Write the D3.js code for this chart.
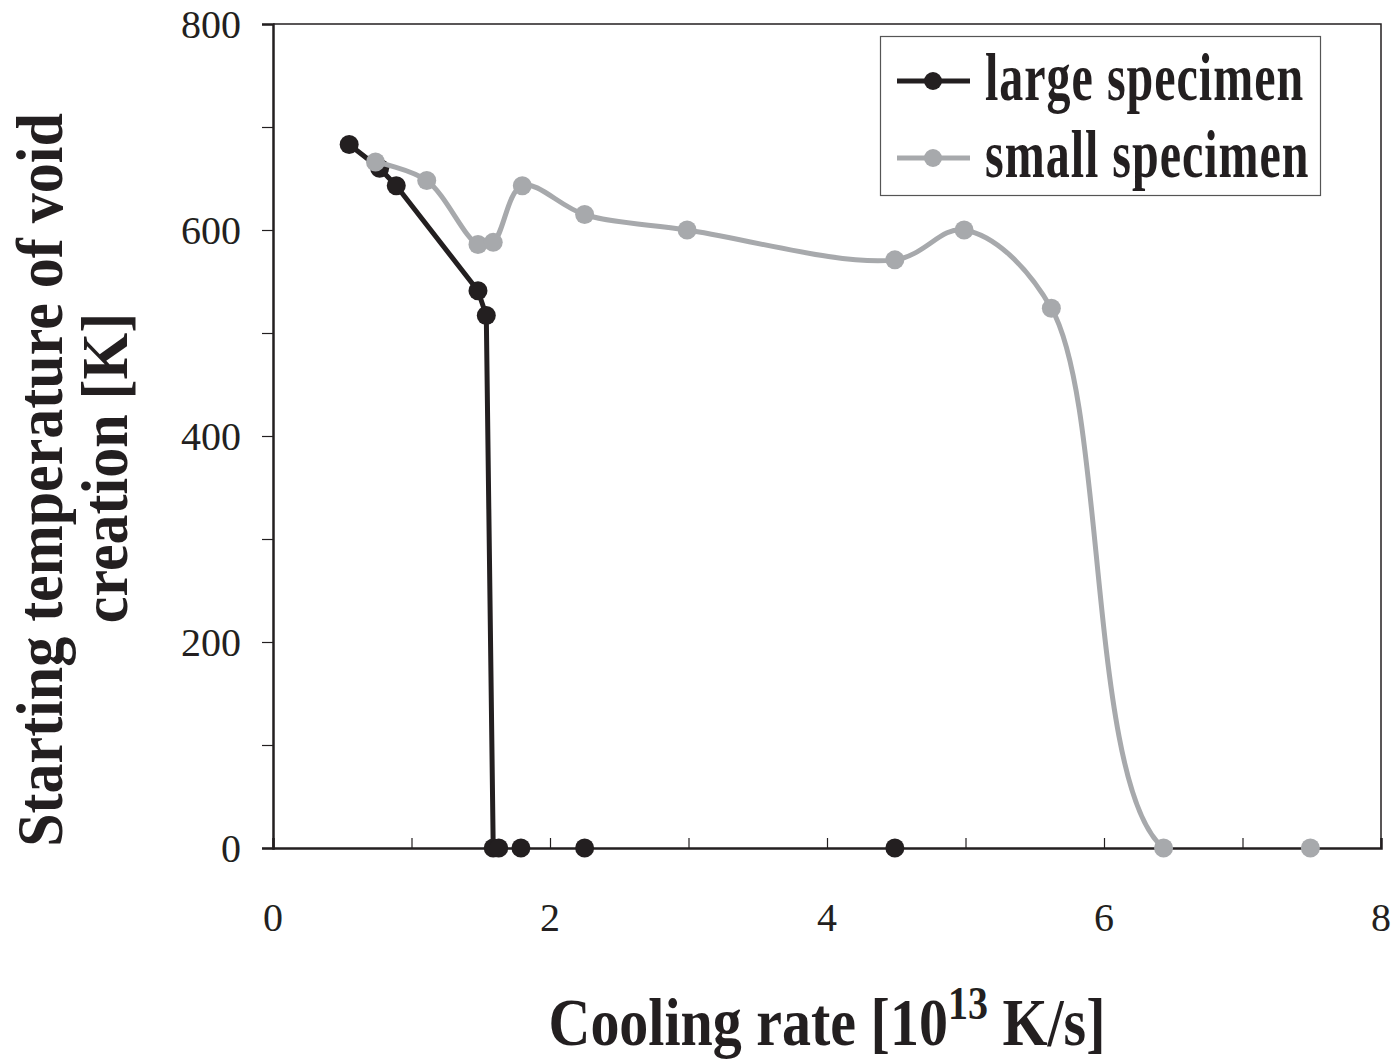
<!DOCTYPE html>
<html>
<head>
<meta charset="utf-8"/>
<script src="https://d3js.org/d3.v7.min.js"></script>
<style>
    body { margin: 0; background: #fff; }
    text { font-family: "Liberation Serif", "Times New Roman", serif; fill: #231f20; }
</style>
</head>
<body>
<svg width="1394" height="1062"></svg>
<script>
    // datos
    const largeX = [0.55, 0.77, 0.89, 1.48, 1.54, 1.59, 1.63, 1.79, 2.25, 4.49];
    const largeY = [683, 660, 643, 541, 517, 0, 0, 0, 0, 0];
    const smallX = [0.74, 1.11, 1.48, 1.59, 1.80, 2.25, 2.99, 4.49, 4.99, 5.62, 6.43, 7.49];
    const smallY = [666, 648, 586, 588, 643, 615, 600, 571, 600, 524, 0, 0];
    const seriesNames = ["large specimen", "small specimen"];
    const seriesColors = ["#231f20", "#a7a9ac"];
    const xTicks = [0, 2, 4, 6, 8];
    const yTicks = [0, 200, 400, 600, 800];

    const svg = d3.select("svg");
    const pLeft = 273, pRight = 1381, pTop = 24, pBottom = 848;

    let xScale = d3.scaleLinear().domain([0, 8]).range([pLeft, pRight]);
    let yScale = d3.scaleLinear().domain([0, 800]).range([pBottom, pTop]);

    // recorte: la linea no se ve sobre el eje x
    svg.append("clipPath").attr("id", "plotClip")
        .append("rect")
        .attr("x", pLeft).attr("y", 0)
        .attr("width", pRight - pLeft).attr("height", pBottom - 3);

    // marco superior y derecho
    svg.append("path")
        .attr("d", `M${pLeft},${pTop}H${pRight}V${pBottom}`)
        .attr("fill", "none")
        .attr("stroke", "#231f20")
        .attr("stroke-width", 1.5);

    // eje Y (ticks hacia afuera, menores cada 100)
    let yAxis = d3.axisLeft(yScale).tickValues(d3.range(0, 801, 100))
        .tickSize(11).tickFormat("");
    let yG = svg.append("g").attr("transform", `translate(${pLeft},0)`).call(yAxis);
    yG.select(".domain").attr("stroke", "#231f20").attr("stroke-width", 2.5);
    yG.selectAll(".tick line").attr("stroke", "#231f20").attr("stroke-width", 1.2);

    svg.selectAll(".ylab").data(yTicks).enter().append("text")
        .attr("x", 241).attr("y", d => yScale(d) + 14)
        .attr("text-anchor", "end")
        .style("font-size", "40px")
        .text(d => d);

    // eje X (ticks hacia adentro)
    let xAxis = d3.axisBottom(xScale).tickValues(d3.range(1, 8, 1))
        .tickSize(-10).tickFormat("");
    let xG = svg.append("g").attr("transform", `translate(0,${pBottom})`).call(xAxis);
    xG.select(".domain").attr("stroke", "#231f20").attr("stroke-width", 2.5);
    xG.selectAll(".tick line").attr("stroke", "#231f20").attr("stroke-width", 1.2);

    svg.selectAll(".xlab").data(xTicks).enter().append("text")
        .attr("x", d => xScale(d)).attr("y", 931)
        .attr("text-anchor", "middle")
        .style("font-size", "40px")
        .text(d => d);

    // titulos de ejes (tipografia un poco estirada en vertical)
    let xt = svg.append("text")
        .attr("transform", "translate(827,1045) scale(1,1.18)")
        .attr("text-anchor", "middle")
        .style("font-size", "58px").style("font-weight", "bold");
    xt.append("tspan").text("Cooling rate [10");
    xt.append("tspan").attr("dy", -22).style("font-size", "40px").text("13");
    xt.append("tspan").attr("dy", 22).text(" K/s]");

    svg.append("text")
        .attr("transform", "translate(62,480) rotate(-90) scale(1,1.1)")
        .attr("text-anchor", "middle")
        .style("font-size", "60px").style("font-weight", "bold")
        .text("Starting temperature of void");
    svg.append("text")
        .attr("transform", "translate(127,468) rotate(-90) scale(1,1.1)")
        .attr("text-anchor", "middle")
        .style("font-size", "60px").style("font-weight", "bold")
        .text("creation [K]");

    // series
    const series = [
        largeX.map((x, i) => ({x: x, y: largeY[i]})),
        smallX.map((x, i) => ({x: x, y: smallY[i]}))
    ];

    // la negra va con tramos rectos, la gris suavizada
    const curves = [d3.curveLinear, d3.curveCatmullRom.alpha(0.5)];

    // negra primero, gris encima
    [0, 1].forEach(function (k) {
        let pts = series[k];
        let line = d3.line()
            .x(d => xScale(d.x))
            .y(d => yScale(d.y))
            .curve(curves[k]);
        svg.append("path")
            .attr("d", line(pts))
            .attr("clip-path", "url(#plotClip)")
            .attr("fill", "none")
            .attr("stroke", seriesColors[k])
            .attr("stroke-width", 5)
            .attr("stroke-linejoin", "round");
        svg.append("g").selectAll("circle").data(pts).enter().append("circle")
            .attr("cx", d => xScale(d.x))
            .attr("cy", d => yScale(d.y))
            .attr("r", 9.5)
            .attr("fill", seriesColors[k]);
    });

    // leyenda
    let leg = svg.append("g");
    leg.append("rect")
        .attr("x", 880.5).attr("y", 36.5).attr("width", 440).attr("height", 159)
        .attr("fill", "#fff").attr("stroke", "#555").attr("stroke-width", 1.2);
    const legY = [81, 158], legBase = [100, 177];
    seriesNames.forEach(function (name, i) {
        leg.append("line")
            .attr("x1", 897).attr("x2", 970).attr("y1", legY[i]).attr("y2", legY[i])
            .attr("stroke", seriesColors[i]).attr("stroke-width", 5);
        leg.append("circle")
            .attr("cx", 933).attr("cy", legY[i]).attr("r", 9)
            .attr("fill", seriesColors[i]);
        leg.append("text")
            .attr("transform", `translate(985,${legBase[i]}) scale(1,1.4)`)
            .style("font-size", "48px").style("font-weight", "bold")
            .style("letter-spacing", "1px")
            .text(name);
    });
</script>
</body>
</html>
